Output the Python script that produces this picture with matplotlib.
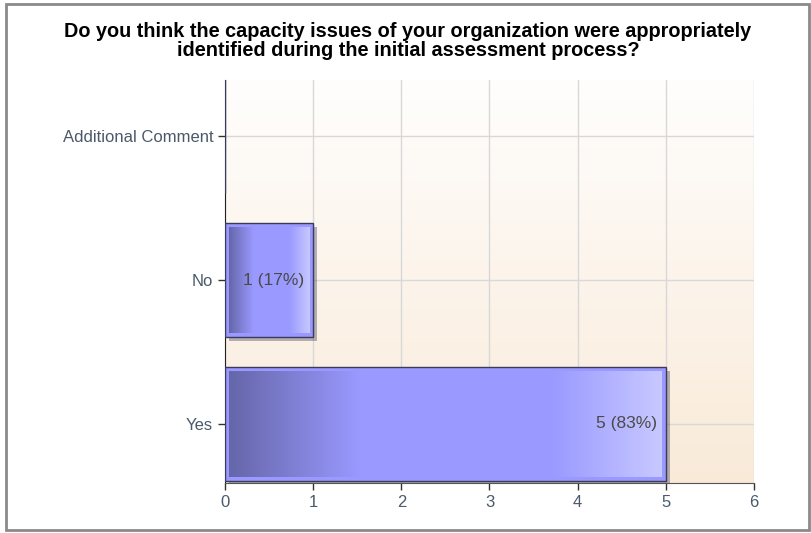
import numpy as np
import matplotlib
matplotlib.use('Agg')
import matplotlib.pyplot as plt
from matplotlib.patches import Rectangle
from matplotlib.colors import LinearSegmentedColormap
import matplotlib.patheffects as pe

# data
categories = ['Yes', 'No', 'Additional Comment']
counts = [5, 1, 0]
percents = [83, 17, 0]
xticks = [0, 1, 2, 3, 4, 5, 6]
title = 'Do you think the capacity issues of your organization were appropriately\nidentified during the initial assessment process?'

plt.rcParams['font.family'] = ['Liberation Sans', 'DejaVu Sans']

fig = plt.figure(figsize=(8.12, 5.33), dpi=100, facecolor='w')
ax = fig.add_axes([225/812, 1-483/533, (754-225)/812, (483-80)/533])

# border round the whole picture
fig.patches.append(Rectangle((6/812, 3/533), 803/812, 526/533, transform=fig.transFigure,
                             fill=False, edgecolor='#8a8a8a', linewidth=2))

# background gradient, white at top to beige at bottom
bg = LinearSegmentedColormap.from_list('bg', ['#fffefd', '#f9ead8'])
ax.imshow(np.linspace(0, 1, 256).reshape(-1, 1), cmap=bg, aspect='auto',
          extent=[0, 1, 0, 1], transform=ax.transAxes, zorder=0, origin='upper')

# bar gradient
barcm = LinearSegmentedColormap.from_list('bar', [(0, '#6666aa'), (0.3, '#9999ff'),
                                                  (0.75, '#9a9aff'), (1, '#c8c8ff')])
y = np.arange(len(categories))
h = 0.79
bars = ax.barh(y, counts, height=h, color='#9999ff', edgecolor='#3a3a5a', linewidth=1,
               zorder=3, path_effects=[pe.SimplePatchShadow(offset=(3, -3), alpha=0.35), pe.Normal()])
grad = np.linspace(0, 1, 256).reshape(1, -1)
for i, v in enumerate(counts):
    if v <= 0:
        continue
    dx = 4/88.2
    dy = 4/144
    ax.imshow(grad, cmap=barcm, aspect='auto', zorder=4,
              extent=[dx, v-dx, y[i]-h/2+dy, y[i]+h/2-dy])
    ax.text(v-0.1, y[i], '%d (%d%%)' % (v, percents[i]), ha='right', va='center',
            fontsize=12.5, color='#4a4a4a', zorder=5)

ax.set_xlim(0, 6)
ax.set_ylim(-0.41, 2.39)
ax.set_xticks(xticks)
ax.set_yticks(y)
ax.set_yticklabels(categories)
ax.grid(True, color='#d8d8d8', linewidth=1, zorder=1)
ax.set_axisbelow(True)
for s in ['top', 'right']:
    ax.spines[s].set_visible(False)
ax.spines['left'].set_color('#222222')
ax.spines['bottom'].set_color('#555555')
ax.tick_params(axis='both', length=5, width=1, labelsize=12, labelcolor='#4a5a6a', color='#333333')

fig.text(408/812, 1-41/533, title, ha='center', va='center', fontsize=14.3,
         fontweight='bold', color='#000000', linespacing=1.0)

plt.savefig('out.png', dpi=100)
